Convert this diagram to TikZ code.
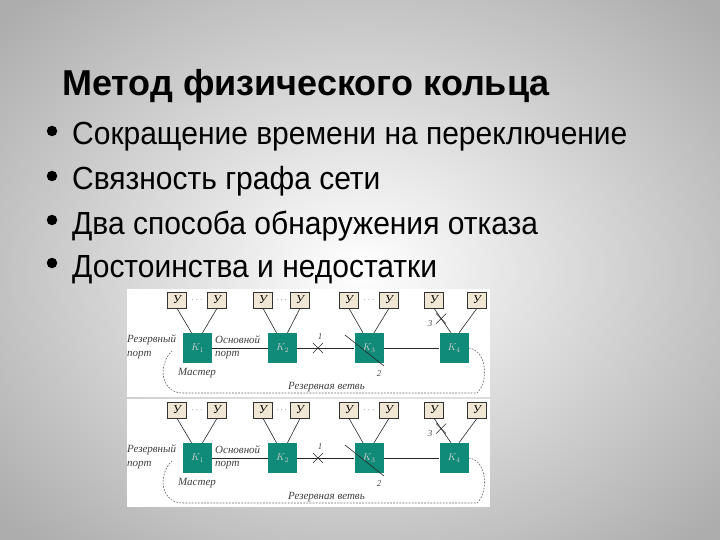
\documentclass[tikz,border=0pt]{standalone}
\usepackage{fontspec}
\setmainfont{Liberation Serif}
\newfontfamily\slidesans{Liberation Sans}
\usetikzlibrary{calc}
\definecolor{kteal}{HTML}{118B79}
\definecolor{ybeige}{HTML}{EFE7D3}
\begin{document}
\begin{tikzpicture}[x=1pt,y=-1pt,
  ybox/.style={draw=black!80, fill=ybeige, minimum width=19pt, minimum height=16pt, inner sep=0pt, line width=0.6pt, font=\fontsize{12}{12}\selectfont\itshape},
  kbox/.style={fill=kteal, minimum width=29pt, minimum height=30pt, inner sep=0pt, text=white!80!black, font=\fontsize{10}{10}\selectfont},
  lbl/.style={font=\fontsize{11}{11}\selectfont\itshape, text=black!75, inner sep=0pt, anchor=west},
  num/.style={font=\fontsize{9}{9}\selectfont\itshape, text=black!70, inner sep=0pt},
  wire/.style={draw=black!85, line width=0.6pt},
  resline/.style={draw=black!60, dash pattern=on 1.8pt off 1.3pt, line width=0.6pt},
  dotsn/.style={text=black!65, inner sep=0pt, font=\fontsize{9}{9}\selectfont},
  titletext/.style={anchor=base west, inner sep=0pt, font=\slidesans\bfseries\fontsize{36}{36}\selectfont},
  bullettext/.style={anchor=base west, inner sep=0pt, font=\slidesans\fontsize{32}{32}\selectfont},
  bulletdot/.style={circle, fill=black, minimum size=10.5pt, inner sep=0pt},
]
\useasboundingbox (0,0) rectangle (720,540);
\shade[inner color=white, outer color=black!32] (-120,-100) rectangle (840,640);

\node[titletext] (title) at (62,96) {Метод физического кольца};

\node[bulletdot] (b1) at (52,131) {};
\node[bullettext] (t1) at (72,145) {\scalebox{0.937}[1]{Сокращение времени на переключение}};
\node[bulletdot] (b2) at (52,176) {};
\node[bullettext] (t2) at (72,190) {\scalebox{0.937}[1]{Связность графа сети}};
\node[bulletdot] (b3) at (52,220) {};
\node[bullettext] (t3) at (72,234) {\scalebox{0.937}[1]{Два способа обнаружения отказа}};
\node[bulletdot] (b4) at (52,263) {};
\node[bullettext] (t4) at (72,277) {\scalebox{0.937}[1]{Достоинства и недостатки}};

\foreach \p/\dy in {1/0, 2/110} {
  \fill[white] (127,289+\dy) rectangle (490,397+\dy);
  % terminals
  \node[ybox] (ya\p) at (177,300+\dy) {У};
  \node[ybox] (yb\p) at (217,300+\dy) {У};
  \node[ybox] (yc\p) at (263,300+\dy) {У};
  \node[ybox] (yd\p) at (300,300+\dy) {У};
  \node[ybox] (ye\p) at (349,300+\dy) {У};
  \node[ybox] (yf\p) at (389,300+\dy) {У};
  \node[ybox] (yg\p) at (434,300+\dy) {У};
  \node[ybox] (yh\p) at (477,300+\dy) {У};
  \node[dotsn] (da\p) at (197,300+\dy) {$\cdots$};
  \node[dotsn] (db\p) at (281.5,300+\dy) {$\cdots$};
  \node[dotsn] (dc\p) at (369,300+\dy) {$\cdots$};
  % switches
  \node[kbox] (ka\p) at (197.5,348+\dy) {$K_1$};
  \node[kbox] (kb\p) at (282.5,348+\dy) {$K_2$};
  \node[kbox] (kc\p) at (369,348+\dy) {$K_3$};
  \node[kbox] (kd\p) at (454,348+\dy) {$K_4$};
  % links terminals -> switches
  \draw[wire] (ya\p.south) -- ($(ka\p.north)+(-6,0)$);
  \draw[wire] (yb\p.south) -- ($(ka\p.north)+(5,0)$);
  \draw[wire] (yc\p.south) -- ($(kb\p.north)+(-6,0)$);
  \draw[wire] (yd\p.south) -- ($(kb\p.north)+(5,0)$);
  \draw[wire] (ye\p.south) -- ($(kc\p.north)+(-6,0)$);
  \draw[wire] (yf\p.south) -- ($(kc\p.north)+(5,0)$);
  \draw[wire] (yg\p.south) -- ($(kd\p.north)+(-3,0)$)
        coordinate[pos=0.42] (cc\p);
  \draw[wire] (yh\p.south) -- ($(kd\p.north)+(5,0)$);
  % main line
  \draw[wire] (ka\p.east) -- (kb\p.west);
  \draw[wire] (kb\p.east) -- (kc\p.west);
  \draw[wire] (kc\p.east) -- (kd\p.west);
  % failure 1
  \coordinate (ca\p) at (318,348+\dy);
  \draw[wire] ($(ca\p)+(-5,-5)$) -- ($(ca\p)+(5,5)$);
  \draw[wire] ($(ca\p)+(-5,5)$) -- ($(ca\p)+(5,-5)$);
  \node[num] (na\p) at (320,337+\dy) {1};
  % failure 2
  \coordinate (cb1\p) at (345,335+\dy);
  \coordinate (cb2\p) at (384,366+\dy);
  \draw[wire] (cb1\p) -- (cb2\p);
  \node[num] (nb\p) at (379,374+\dy) {2};
  % failure 3
  \draw[wire] ($(cc\p)+(-5,-5)$) -- ($(cc\p)+(5,5)$);
  \draw[wire] ($(cc\p)+(-5,5)$) -- ($(cc\p)+(5,-5)$);
  \node[num] (nc\p) at (430,324+\dy) {3};
  % reserve branch
  \coordinate (rp\p) at (172,351+\dy);
  \draw[resline] (kd\p.east) .. controls (487,350+\dy) and (489,382+\dy) .. (477,393+\dy)
     -- (182,393+\dy) .. controls (160,392+\dy) and (158,364+\dy) .. (rp\p);
  % labels
  \node[lbl] (la\p) at (127,340+\dy) {Резервный};
  \node[lbl] (lb\p) at (127,355+\dy) {порт};
  \node[lbl] (lc\p) at (215,340+\dy) {Основной};
  \node[lbl] (ld\p) at (215,355+\dy) {порт};
  \node[lbl] (le\p) at (178,373+\dy) {Мастер};
  \node[lbl] (lf\p) at (288,387+\dy) {Резервная ветвь};
}
\end{tikzpicture}
\end{document}
